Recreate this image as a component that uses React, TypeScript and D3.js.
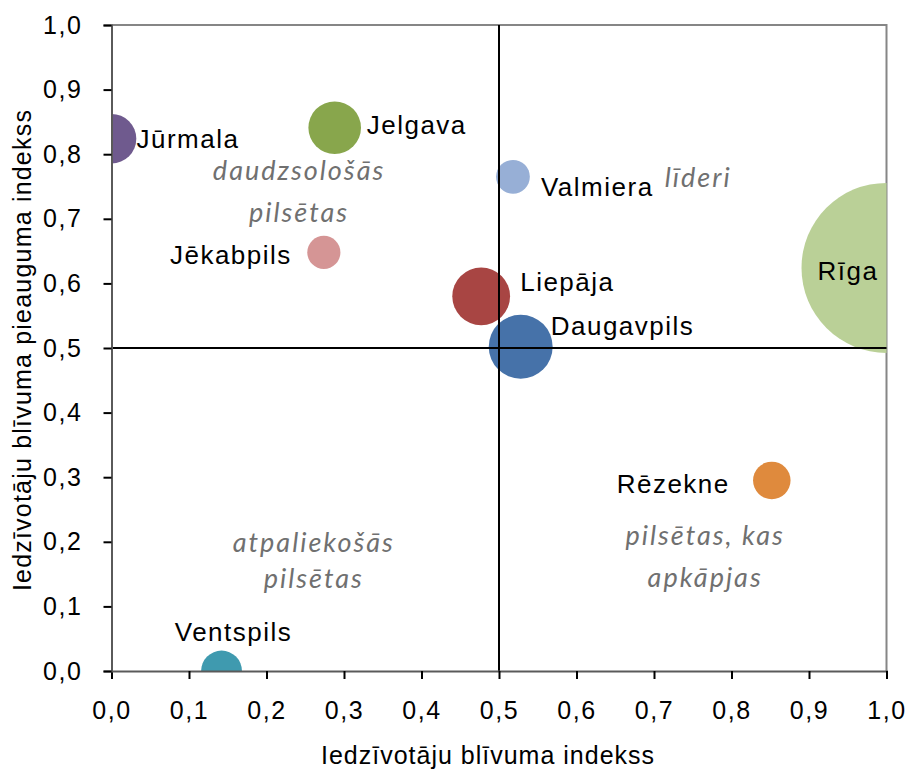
import React, { useEffect, useRef } from 'react';
import { select, scaleLinear, scaleSqrt, axisBottom, axisLeft, range } from 'd3';

const cities = ['Jūrmala', 'Jelgava', 'Valmiera', 'Jēkabpils', 'Liepāja', 'Daugavpils', 'Rīga', 'Rēzekne', 'Ventspils'];
const densityIdx = [0.0, 0.288, 0.518, 0.274, 0.477, 0.528, 1.0, 0.852, 0.142];
const growthIdx = [0.824, 0.841, 0.765, 0.648, 0.58, 0.502, 0.624, 0.295, 0.0];
const population = [56, 63, 26, 25, 76, 93, 658, 32, 38]; // thousands
const colors = ['#6f5a8e', '#88a64c', '#97afd6', '#d59595', '#a84543', '#4672a9', '#bad097', '#df8a3d', '#3f9aaf'];
const tickValues = range(0, 11).map(i => i / 10);

// label placement relative to bubble centre [dx, dy, anchor]
const labelPos: [number, number, string][] = [
  [25, 0, 'start'], [32, -3, 'start'], [28, 10, 'start'], [-32, 3, 'end'], [39, -14, 'start'],
  [30, -21, 'start'], [-8, 3, 'end'], [-42, 4, 'end'], [12, -39, 'middle'],
];

const quadrantNotes = [
  { lines: ['daudzsološās', 'pilsētas'], x: 0.242, y: [0.776, 0.711] },
  { lines: ['līderi'], x: 0.757, y: [0.765] },
  { lines: ['atpaliekošās', 'pilsētas'], x: 0.261, y: [0.2, 0.144] },
  { lines: ['pilsētas, kas', 'apkāpjas'], x: 0.766, y: [0.211, 0.147] },
];

const fmt = (v: number) => v.toFixed(1).replace('.', ',');

export default function App() {
  const svgRef = useRef<SVGSVGElement>(null);

  useEffect(() => {
    if (!svgRef.current) return;
    const W = 910, H = 771;
    const left = 111.5, right = 886.5, top = 25, bottom = 671;
    const svg = select(svgRef.current);
    svg.selectAll('*').remove();
    svg.attr('width', W).attr('height', H);

    const x = scaleLinear().domain([0, 1]).range([left, right]);
    const y = scaleLinear().domain([0, 1]).range([bottom, top]);
    const r = scaleSqrt().domain([0, 658]).range([0, 85]);

    const font = '"Liberation Sans", Arial, sans-serif';

    svg.append('defs').append('clipPath').attr('id', 'plotClip')
      .append('rect').attr('x', left).attr('y', top).attr('width', right - left).attr('height', bottom - top);

    svg.append('rect').attr('width', W).attr('height', H).attr('fill', '#fff');

    // plot border (top/right)
    svg.append('path')
      .attr('d', `M${left},${top}H${right}V${bottom}`)
      .attr('fill', 'none').attr('stroke', '#868686').attr('stroke-width', 2);

    // bubbles
    const data = cities.map((c, i) => ({ c, x: densityIdx[i], y: growthIdx[i], p: population[i], col: colors[i], lp: labelPos[i] }));
    svg.append('g').attr('clip-path', 'url(#plotClip)')
      .selectAll('circle').data(data).enter().append('circle')
      .attr('cx', d => x(d.x)).attr('cy', d => y(d.y)).attr('r', d => r(d.p))
      .attr('fill', d => d.col);

    // quadrant lines
    svg.append('line').attr('x1', x(0.5)).attr('x2', x(0.5)).attr('y1', top).attr('y2', bottom)
      .attr('stroke', '#000').attr('stroke-width', 2);
    svg.append('line').attr('x1', left).attr('x2', right).attr('y1', y(0.5)).attr('y2', y(0.5))
      .attr('stroke', '#000').attr('stroke-width', 2);

    // axes
    const xAxis = svg.append('g').attr('transform', `translate(0,${bottom})`)
      .call(axisBottom(x).tickValues(tickValues).tickFormat(d => fmt(+d)).tickSize(8).tickPadding(22));
    const yAxis = svg.append('g').attr('transform', `translate(${left},0)`)
      .call(axisLeft(y).tickValues(tickValues).tickFormat(d => fmt(+d)).tickSize(8).tickPadding(21));
    [xAxis, yAxis].forEach(a => {
      a.select('.domain').attr('stroke', '#5a5a5a').attr('stroke-width', 2);
      a.selectAll('.tick line').attr('stroke', '#000').attr('stroke-width', 2);
      a.selectAll('.tick text').attr('fill', '#000').style('font-family', font)
        .style('font-size', '25px').style('letter-spacing', '1.6px');
    });
    xAxis.selectAll('.tick text').attr('dy', '0.71em');

    // bubble labels
    svg.append('g').selectAll('text').data(data).enter().append('text')
      .attr('x', d => x(d.x) + d.lp[0]).attr('y', d => y(d.y) + d.lp[1])
      .attr('text-anchor', d => d.lp[2]).attr('dominant-baseline', 'central')
      .style('font-family', font).style('font-size', '26px').style('letter-spacing', '1.5px')
      .attr('fill', '#000').text(d => d.c);

    // quadrant notes
    quadrantNotes.forEach(n => {
      n.lines.forEach((t, i) => {
        svg.append('text').attr('x', x(n.x)).attr('y', y(n.y[i]))
          .attr('text-anchor', 'middle').attr('dominant-baseline', 'central')
          .style('font-family', 'Lato, "Open Sans", sans-serif').style('font-style', 'italic')
          .style('font-size', '27px').style('letter-spacing', '2px')
          .attr('fill', '#707070').text(t);
      });
    });

    // axis titles
    svg.append('text').attr('x', (left + right) / 2 - 11).attr('y', 755)
      .attr('text-anchor', 'middle').attr('dominant-baseline', 'central')
      .style('font-family', font).style('font-size', '25px').style('letter-spacing', '1px')
      .text('Iedzīvotāju blīvuma indekss');
    svg.append('text').attr('transform', `translate(22,${(top + bottom) / 2 + 2}) rotate(-90)`)
      .attr('text-anchor', 'middle').attr('dominant-baseline', 'central')
      .style('font-family', font).style('font-size', '25px').style('letter-spacing', '1.2px')
      .text('Iedzīvotāju blīvuma pieauguma indekss');
  }, []);

  return <svg ref={svgRef} style={{ position: 'absolute', left: 0, top: 0 }} />;
}
